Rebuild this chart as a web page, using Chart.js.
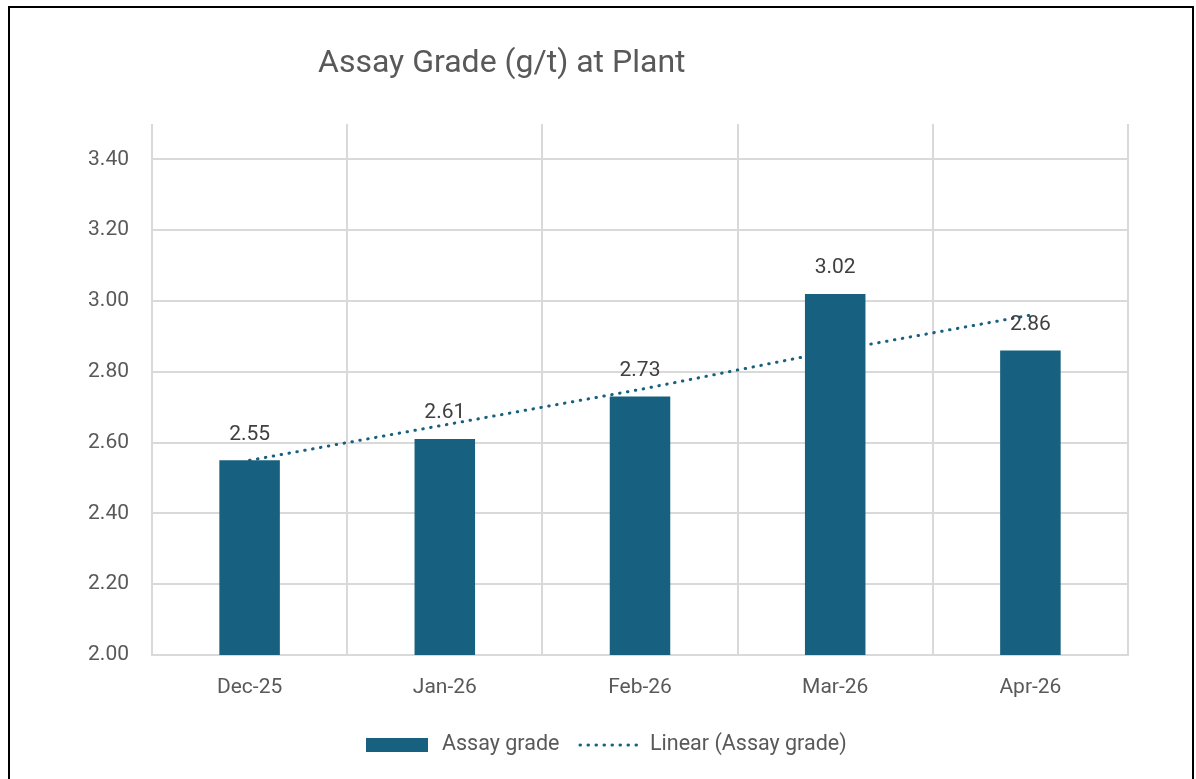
<!DOCTYPE html>
<html>
<head>
<meta charset="utf-8">
<script src="https://cdn.jsdelivr.net/npm/chart.js@4.4.1/dist/chart.umd.min.js"></script>
<style>
  html, body { margin: 0; padding: 0; background: #fff; overflow: hidden; }
  #frame { position: absolute; left: 8px; top: 6px; width: 1182px; height: 800px; border: 2px solid #000; }
  #wrap { position: absolute; left: 0; top: 0; width: 1196px; height: 779px; }
</style>
</head>
<body>
<div id="frame"></div>
<div id="wrap"><canvas id="chart" width="1196" height="779"></canvas></div>
<script>
const months = ['Dec-25', 'Jan-26', 'Feb-26', 'Mar-26', 'Apr-26'];
const assayGrade = [2.55, 2.61, 2.73, 3.02, 2.86];
// trendline
const linearTrend = [2.55, 2.65, 2.75, 2.86, 2.96];
const yTicks = [2.0, 2.2, 2.4, 2.6, 2.8, 3.0, 3.2, 3.4];

const BAR_COLOR = '#17607f';
const TEXT = '#595959';
const FONT = 'Roboto, "Liberation Sans", sans-serif';

const titlePlugin = {
  id: 'titleText',
  afterDraw(chart) {
    const ctx = chart.ctx;
    ctx.save();
    ctx.fillStyle = TEXT;
    ctx.font = '32px ' + FONT;
    ctx.textBaseline = 'middle';
    ctx.textAlign = 'left';
    ctx.fillText('Assay Grade (g/t) at Plant', 318, 64);
    ctx.restore();
  }
};

const labelPlugin = {
  id: 'barLabels',
  afterDatasetsDraw(chart) {
    const ctx = chart.ctx;
    const meta = chart.getDatasetMeta(1);
    ctx.save();
    ctx.fillStyle = '#404040';
    ctx.font = '21px ' + FONT;
    ctx.textAlign = 'center';
    ctx.textBaseline = 'middle';
    meta.data.forEach((bar, i) => {
      ctx.fillText(assayGrade[i].toFixed(2), bar.x, bar.y - 26);
    });
    ctx.restore();
  }
};

const legendPlugin = {
  id: 'legendBox',
  afterDraw(chart) {
    const ctx = chart.ctx;
    const y = 745;
    ctx.save();
    ctx.fillStyle = BAR_COLOR;
    ctx.fillRect(366, y - 7, 62, 14);
    ctx.strokeStyle = BAR_COLOR;
    ctx.lineWidth = 3;
    ctx.lineCap = 'round';
    ctx.setLineDash([0.5, 7.5]);
    ctx.beginPath();
    ctx.moveTo(580, y);
    ctx.lineTo(643, y);
    ctx.stroke();
    ctx.fillStyle = TEXT;
    ctx.font = '21.5px ' + FONT;
    ctx.textBaseline = 'middle';
    ctx.fillText('Assay grade', 442, y);
    ctx.fillText('Linear (Assay grade)', 650, y);
    ctx.restore();
  }
};

new Chart(document.getElementById('chart'), {
  data: {
    labels: months,
    datasets: [
      {
        type: 'line',
        label: 'Linear (Assay grade)',
        data: linearTrend,
        borderColor: BAR_COLOR,
        borderWidth: 3,
        borderDash: [0.5, 7.5],
        borderCapStyle: 'round',
        pointRadius: 0,
        fill: false,
        order: 0
      },
      {
        type: 'bar',
        label: 'Assay grade',
        data: assayGrade,
        backgroundColor: BAR_COLOR,
        barPercentage: 0.31,
        categoryPercentage: 1,
        order: 1
      }
    ]
  },
  options: {
    responsive: false,
    animation: false,
    layout: { padding: { left: 0, right: 68, top: 124, bottom: 0 } },
    plugins: {
      legend: { display: false },
      tooltip: { enabled: false }
    },
    scales: {
      x: {
        grid: { color: '#d9d9d9', lineWidth: 2, drawTicks: false, offset: true },
        border: { color: '#d9d9d9', width: 2 },
        ticks: { color: TEXT, font: { size: 21, family: FONT }, padding: 20 },
        afterFit: s => { s.height = 124; }
      },
      y: {
        min: 2,
        max: 3.5,
        grid: { color: '#d9d9d9', lineWidth: 2, drawTicks: false },
        border: { display: false },
        ticks: {
          color: TEXT,
          font: { size: 21, family: FONT },
          padding: 23,
          callback: v => Number(v).toFixed(2)
        },
        afterBuildTicks: s => { s.ticks = yTicks.map(v => ({ value: v })); },
        afterFit: s => { s.width = 152; }
      }
    }
  },
  plugins: [titlePlugin, labelPlugin, legendPlugin]
});
</script>
</body>
</html>
